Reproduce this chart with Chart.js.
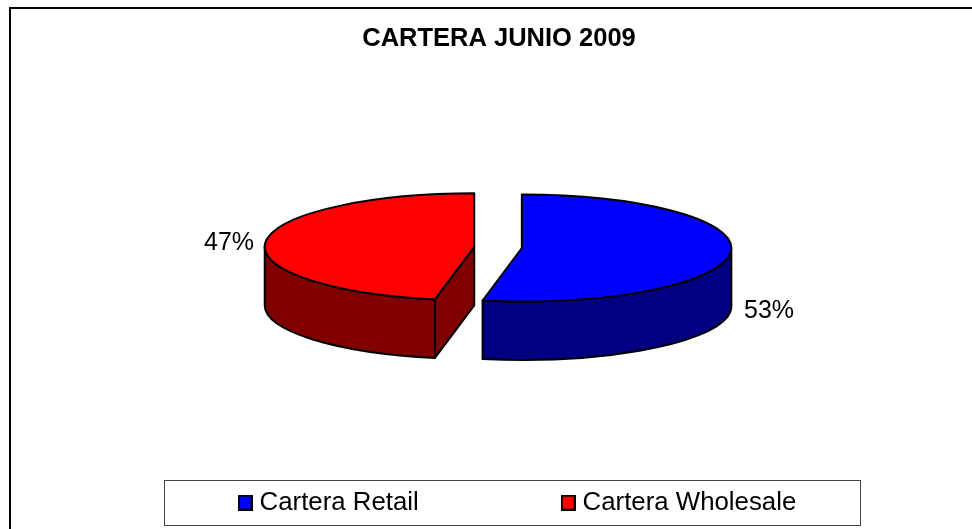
<!DOCTYPE html>
<html>
<head>
<meta charset="utf-8">
<script src="https://cdn.jsdelivr.net/npm/chart.js@4"></script>
<style>
html,body{margin:0;padding:0;background:#fff;overflow:hidden}
#wrap{position:relative;width:972px;height:529px}
</style>
</head>
<body>
<div id="wrap"><canvas id="c" width="972" height="529"></canvas></div>
<script>
const categories = ['Cartera Retail', 'Cartera Wholesale'];
const shares = [53, 47];
const topColors = ['#0000FF', '#FF0000'];
const sideColors = ['#000080', '#800000'];
const explode = [68.4, 84.2];
const labelAnchors = [[769, 311], [229, 243]];

const FONT = '"Liberation Sans", Arial, sans-serif';
const PIE = {cx: 500.5, cy: 247.5, rx: 209.5, ry: 53.5, depth: 58.5};

function swatch(color) {
  const s = document.createElement('canvas');
  s.width = 15; s.height = 16;
  const g = s.getContext('2d');
  g.fillStyle = '#000'; g.fillRect(0, 0, 15, 16);
  g.fillStyle = color; g.fillRect(2, 2, 11, 12);
  return s;
}

function geom(el) {
  const o = (el.options.offset || 0) / 4;
  const half = (el.startAngle + el.endAngle) / 2;
  const fix = 1 - Math.sin(Math.min(Math.PI, el.circumference || 0));
  const ro = o * fix;
  return {x: el.x + Math.cos(half) * o, y: el.y + Math.sin(half) * o, r: el.outerRadius + ro,
          a0: el.startAngle, a1: el.endAngle};
}
function applyT(ctx, el0) {
  const g0 = geom(el0);
  const sx = PIE.rx / g0.r, sy = PIE.ry / g0.r;
  ctx.translate(PIE.cx, PIE.cy);
  ctx.scale(sx, sy);
  ctx.translate(-el0.x, -el0.y);
  return sy;
}

const pie3d = {
  id: 'pie3d',
  beforeDraw(chart) {
    const ctx = chart.ctx;
    ctx.save();
    ctx.fillStyle = '#fff';
    ctx.fillRect(0, 0, chart.width, chart.height);
    ctx.strokeStyle = '#000';
    ctx.lineWidth = 2;
    ctx.strokeRect(10, 8, 1000, 600);
    ctx.lineWidth = 1;
    ctx.strokeStyle = '#444';
    ctx.strokeRect(164.5, 480.5, 696, 45);
    ctx.restore();
  },
  beforeDatasetsDraw(chart) {
    const ctx = chart.ctx;
    const arcs = chart.getDatasetMeta(0).data;
    arcs.forEach((el, i) => {
      const g = geom(el);
      const start = Math.max(g.a0, 0), end = Math.min(g.a1, Math.PI);
      const path = (build) => {
        ctx.save();
        const sy = applyT(ctx, arcs[0]);
        const D = PIE.depth / sy;
        ctx.beginPath();
        build(D);
        ctx.closePath();
        ctx.restore();
        ctx.fillStyle = sideColors[i];
        ctx.fill();
        ctx.strokeStyle = '#000';
        ctx.lineWidth = 2;
        ctx.lineJoin = 'round';
        ctx.stroke();
      };
      if (end > start) {
        path(D => {
          ctx.arc(g.x, g.y, g.r, start, end);
          ctx.arc(g.x, g.y + D, g.r, end, start, true);
        });
      }
      const faces = [];
      if (Math.cos(g.a0) < -1e-6) faces.push(g.a0);
      if (Math.cos(g.a1) > 1e-6) faces.push(g.a1);
      faces.forEach(a => {
        path(D => {
          const px = g.x + Math.cos(a) * g.r, py = g.y + Math.sin(a) * g.r;
          ctx.moveTo(g.x, g.y);
          ctx.lineTo(px, py);
          ctx.lineTo(px, py + D);
          ctx.lineTo(g.x, g.y + D);
        });
      });
    });
    ctx.save();
    applyT(ctx, arcs[0]);
  },
  afterDatasetsDraw(chart) {
    const ctx = chart.ctx;
    ctx.restore();
    const arcs = chart.getDatasetMeta(0).data;
    arcs.forEach((el, i) => {
      const g = geom(el);
      ctx.save();
      applyT(ctx, arcs[0]);
      ctx.beginPath();
      ctx.moveTo(g.x, g.y);
      ctx.arc(g.x, g.y, g.r, g.a0, g.a1);
      ctx.closePath();
      ctx.restore();
      ctx.fillStyle = topColors[i];
      ctx.fill();
      ctx.strokeStyle = '#000';
      ctx.lineWidth = 2;
      ctx.lineJoin = 'round';
      ctx.stroke();
      ctx.fillStyle = '#000';
      ctx.font = '25px ' + FONT;
      ctx.textAlign = 'center';
      ctx.textBaseline = 'middle';
      ctx.fillText(shares[i] + '%', labelAnchors[i][0], labelAnchors[i][1]);
    });
  }
};

new Chart(document.getElementById('c'), {
  type: 'pie',
  data: {
    labels: categories,
    datasets: [{
      data: shares,
      backgroundColor: topColors,
      borderWidth: 0,
      offset: explode,
      radius: 150,
      clip: false
    }]
  },
  plugins: [pie3d],
  options: {
    responsive: false,
    animation: false,
    layout: {padding: {left: 53.75, right: 27.75, top: 0, bottom: 3.5}},
    plugins: {
      tooltip: {enabled: false},
      title: {
        display: true,
        text: 'CARTERA JUNIO 2009',
        color: '#000',
        font: {family: FONT, size: 25.5, weight: 'bold'},
        padding: {top: 24, bottom: 10}
      },
      legend: {
        display: true,
        position: 'bottom',
        align: 'end',
        labels: {
          color: '#000',
          font: {family: FONT, size: 25.8},
          usePointStyle: true,
          boxWidth: 3,
          padding: 148,
          generateLabels: chart => categories.map((t, i) => ({
            text: t, fillStyle: topColors[i], strokeStyle: '#000', lineWidth: 1,
            pointStyle: swatch(topColors[i]), hidden: false, index: i
          }))
        }
      }
    }
  }
});
</script>
</body>
</html>
